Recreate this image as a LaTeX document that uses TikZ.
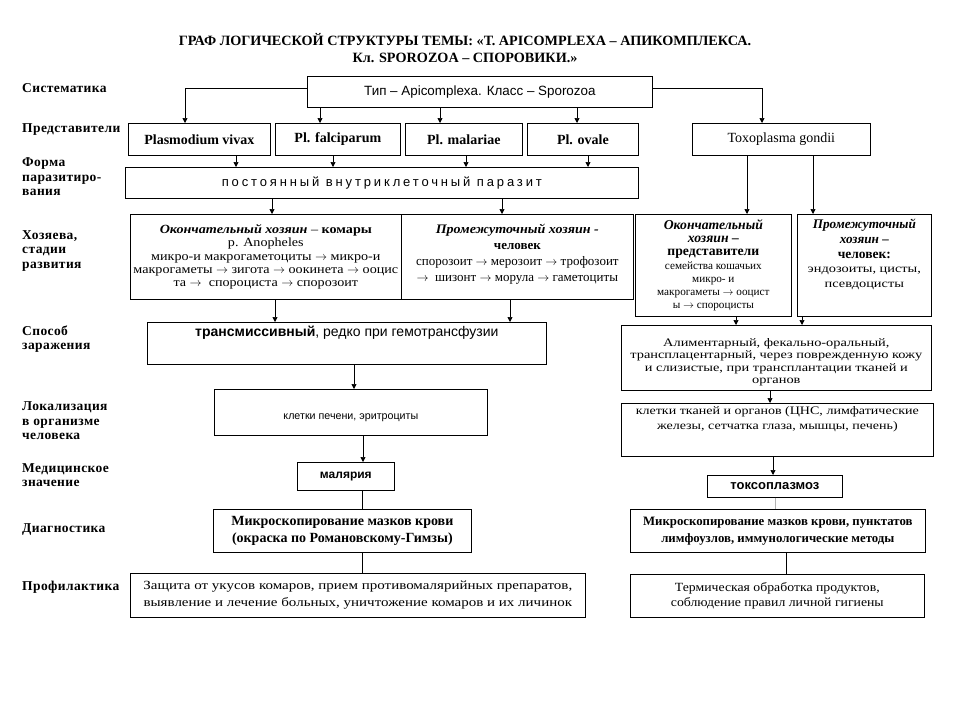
\documentclass[tikz,border=0pt]{standalone}
\usepackage{fontspec}
\setmainfont{Liberation Serif}
\newfontfamily\sansf{Liberation Sans}
\usetikzlibrary{positioning}
\usetikzlibrary{arrows.meta}

\newcommand{\bodysz}{\fontsize{11.5}{13.3}\selectfont}
\newcommand{\labelsz}{\fontsize{13.5}{14.5}\selectfont\bfseries\addfontfeature{LetterSpace=3}}
\newcommand{\wide}[1]{\addfontfeature{FakeStretch=#1}}
\newcommand{\hdsz}{\fontsize{13.7}{13.3}\selectfont}
\newcommand{\ar}{$\rightarrow$}

\tikzset{
  box/.style={draw, line width=0.7pt, anchor=north west, align=center, inner sep=1pt, font=\bodysz},
  arr/.style={-{Triangle[length=5pt,width=5pt]}, line width=0.7pt},
  lnk/.style={line width=0.7pt},
  rowlabel/.style={anchor=west, align=left, font=\labelsz, inner sep=0pt},
}

\begin{document}
\begin{tikzpicture}[x=1pt, y=-1pt]
\useasboundingbox (0,0) rectangle (960,720);

% title
\node[font={\fontsize{14.2}{17}\selectfont\bfseries}, align=center] (title) at (465,48)
  {ГРАФ ЛОГИЧЕСКОЙ СТРУКТУРЫ ТЕМЫ: «Т. APICOMPLEXA – АПИКОМПЛЕКСА.\\
   Кл. SPOROZOA – СПОРОВИКИ.»};

% row labels
\node[rowlabel] (lsys) at (22,88) {Систематика};
\node[rowlabel] (lrep) at (22,130) {Представители};
\node[rowlabel] (lform) at (22,177) {Форма\\паразитиро-\\вания};
\node[rowlabel] (lhost) at (22,251) {Хозяева,\\стадии\\развития};
\node[rowlabel] (lway) at (22,339) {Способ\\заражения};
\node[rowlabel] (lloc) at (22,421) {Локализация\\в организме\\человека};
\node[rowlabel] (lmed) at (22,475) {Медицинское\\значение};
\node[rowlabel] (ldiag) at (22,530) {Диагностика};
\node[rowlabel] (lprof) at (22,587) {Профилактика};

% systematics
\node[box, minimum width=345, minimum height=31, font=\sansf\fontsize{13.4}{15}\selectfont] (type) at (307,76)
  {Тип – Apicomplexa. Класс – Sporozoa};

% representatives
\tikzset{rep/.style={box, minimum height=32, font=\fontsize{14}{15}\selectfont}}
\node[rep, minimum width=142] (vivax) at (128,123) {\textbf{Plasmodium vivax}};
\node[rep, minimum width=125] (falc) at (275,123) {\textbf{Pl. falciparum}};
\node[rep, minimum width=117] (malar) at (405,123) {\textbf{Pl. malariae}};
\node[rep, minimum width=111] (ovale) at (527,123) {\textbf{Pl. ovale}};
\node[rep, minimum width=178] (toxo) at (692,123) {Toxoplasma gondii};

\draw[arr] ([yshift=4pt]type.west) -| (185,0 |- vivax.north);
\draw[arr] (320,0 |- type.south) -- (320,0 |- falc.north);
\draw[arr] (440,0 |- type.south) -- (440,0 |- malar.north);
\draw[arr] (577,0 |- type.south) -- (577,0 |- ovale.north);
\draw[arr] ([yshift=4pt]type.east) -| (762,0 |- toxo.north);

% form of parasitism
\node[box, minimum width=513, minimum height=31, font={\sansf\fontsize{13}{15}\selectfont\addfontfeature{LetterSpace=22}}] (perm) at (125,167)
  {постоянный внутриклеточный паразит};

\draw[arr] (236,0 |- vivax.south) -- (236,0 |- perm.north);
\draw[arr] (333,0 |- falc.south) -- (333,0 |- perm.north);
\draw[arr] (466,0 |- malar.south) -- (466,0 |- perm.north);
\draw[arr] (588,0 |- ovale.south) -- (588,0 |- perm.north);

% hosts
\node[box, minimum width=271, minimum height=85, font={\fontsize{12.5}{13.3}\selectfont\wide{1.13}}] (defh) at (130,214)
  {\textbf{\textit{Окончательный хозяин}} – \textbf{комары}\\
   р. Anopheles\\
   микро-и макрогаметоциты \ar{} микро-и\\
   макрогаметы \ar{} зигота \ar{} оокинета \ar{} ооцис\\
   та \ar{}\ \ спороциста \ar{} спорозоит};
\node[box, minimum width=232, minimum height=85, font={\fontsize{13}{16}\selectfont}] (intm) at (401,214)
  {{\wide{1.08}\textbf{\textit{Промежуточный хозяин -}}}\\
   \textbf{человек}\\
   спорозоит \ar{} мерозоит \ar{} трофозоит\\
   \ar{}\ \ шизонт \ar{} морула \ar{} гаметоциты\\[-8pt]};
\node[box, minimum width=156, minimum height=102, font={\fontsize{11.2}{13.3}\selectfont}] (defht) at (635,214)
  {{\hdsz\textbf{\textit{Окончательный}}}\\
   {\hdsz\textbf{\textit{хозяин –}}}\\
   {\hdsz\textbf{представители}}\\
   семейства кошачьих\\
   микро- и\\
   макрогаметы \ar{} ооцист\\
   ы \ar{} спороцисты};
\node[box, minimum width=134, minimum height=102, font={\fontsize{11.5}{14.7}\selectfont}] (inth) at (797,214)
  {{\fontsize{13.2}{14.7}\selectfont\textbf{\textit{Промежуточный}}}\\
   {\fontsize{13.2}{14.7}\selectfont\textbf{\textit{хозяин –}}}\\
   {\fontsize{13.5}{14.7}\selectfont\textbf{человек:}}\\
   {\wide{1.25}эндозоиты, цисты,}\\
   {\wide{1.25}псевдоцисты}\\[9pt]};

\draw[arr] (272,0 |- perm.south) -- (272,0 |- defh.north);
\draw[arr] (502,0 |- perm.south) -- (502,0 |- intm.north);
\draw[arr] (747,0 |- toxo.south) -- (747,0 |- defht.north);
\draw[arr] (813,0 |- toxo.south) -- (813,0 |- inth.north);

% ways of infection
\node[box, minimum width=399, minimum height=42] (transm) at (147,322)
  {{\sansf\fontsize{14}{15}\selectfont\textbf{трансмиссивный}, редко при гемотрансфузии}\\[10pt]};
\node[box, minimum width=310, minimum height=65, font={\fontsize{11.5}{12.5}\selectfont\wide{1.25}}] (routes) at (621,325)
  {\rule{0pt}{17pt}Алиментарный, фекально-оральный,\\
   трансплацентарный, через поврежденную кожу\\
   и слизистые, при трансплантации тканей и\\
   органов};

\draw[arr] (275,0 |- defh.south) -- (275,0 |- transm.north);
\draw[arr] (510,0 |- intm.south) -- (510,0 |- transm.north);
\draw[arr] (736,0 |- defht.south) -- (736,0 |- routes.north);
\draw[arr] (802,0 |- inth.south) -- (802,0 |- routes.north);

% localization
\node[box, minimum width=273, minimum height=46, font=\sansf\fontsize{10.7}{12}\selectfont] (locl) at (214,389)
  {\rule{0pt}{16pt}клетки печени, эритроциты};
\node[box, minimum width=312, minimum height=53, font={\fontsize{11.5}{15}\selectfont\wide{1.22}}] (locr) at (621,403)
  {клетки тканей и органов (ЦНС, лимфатические\\
   железы, сетчатка глаза, мышцы, печень)\\[9pt]};

\draw[arr] (354,0 |- transm.south) -- (354,0 |- locl.north);
\draw[arr] (770,0 |- routes.south) -- (770,0 |- locr.north);

% medical significance
\node[box, minimum width=97, minimum height=28, font=\sansf\fontsize{12}{13}\selectfont\bfseries] (malaria) at (297,462) {малярия};
\node[box, minimum width=135, minimum height=22, font=\sansf\fontsize{13}{14}\selectfont\bfseries] (toxoz) at (707,475) {токсоплазмоз};

\draw[arr] (363,0 |- locl.south) -- (363,0 |- malaria.north);
\draw[arr] (773,0 |- locr.south) -- (773,0 |- toxoz.north);

% diagnostics
\node[box, minimum width=258, minimum height=43, font=\fontsize{14}{17}\selectfont\bfseries] (diagl) at (213,509)
  {Микроскопирование мазков крови\\(окраска по Романовскому-Гимзы)};
\node[box, minimum width=295, minimum height=43, font=\fontsize{12.8}{17}\selectfont\bfseries] (diagr) at (630,509)
  {Микроскопирование мазков крови, пунктатов\\лимфоузлов, иммунологические методы};

\draw[lnk] (362,0 |- malaria.south) -- (362,0 |- diagl.north);
\draw[lnk, gray!60] (775,0 |- toxoz.south) -- (775,0 |- diagr.north);

% prophylaxis
\node[box, minimum width=455, minimum height=44, font={\fontsize{12.5}{17}\selectfont\wide{1.2}}] (profl) at (130,573)
  {Защита от укусов комаров, прием противомалярийных препаратов,\\
   выявление и лечение больных, уничтожение комаров и их личинок};
\node[box, minimum width=294, minimum height=43, font={\fontsize{12.5}{15.5}\selectfont\wide{1.1}}] (profr) at (630,574)
  {Термическая обработка продуктов,\\соблюдение правил личной гигиены};

\draw[lnk] (362,0 |- diagl.south) -- (362,0 |- profl.north);
\draw[lnk] (786,0 |- diagr.south) -- (786,0 |- profr.north);

\end{tikzpicture}
\end{document}
